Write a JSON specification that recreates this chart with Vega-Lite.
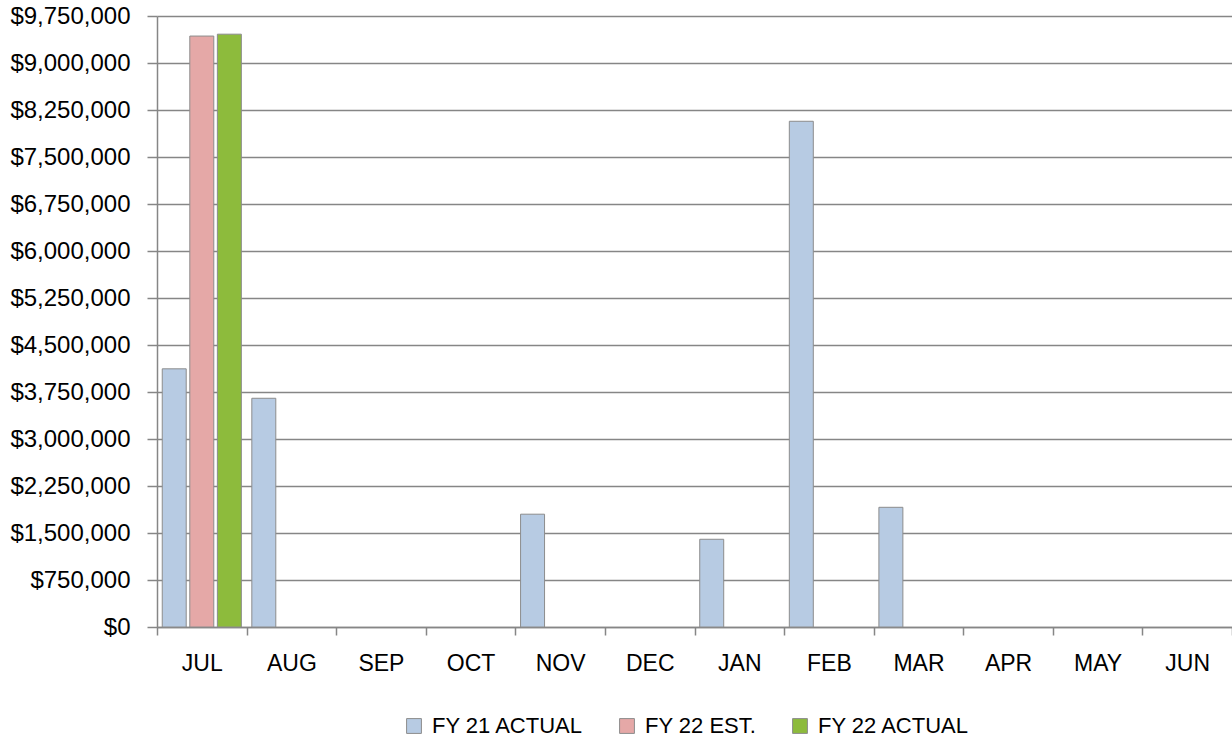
{
  "$schema": "https://vega.github.io/schema/vega-lite/v6.json",
  "autosize": {"type": "none"},
  "width": 1075,
  "height": 611,
  "padding": {"left": 157, "top": 16, "right": 0, "bottom": 115},
  "config": {
    "font": "Liberation Sans",
    "view": {"stroke": null}
  },
  "data": {
    "values": [
      {"month": "JUL", "series": "FY 21 ACTUAL", "amount": 4120000},
      {"month": "JUL", "series": "FY 22 EST.", "amount": 9430000},
      {"month": "JUL", "series": "FY 22 ACTUAL", "amount": 9460000},
      {"month": "AUG", "series": "FY 21 ACTUAL", "amount": 3650000},
      {"month": "NOV", "series": "FY 21 ACTUAL", "amount": 1800000},
      {"month": "JAN", "series": "FY 21 ACTUAL", "amount": 1400000},
      {"month": "FEB", "series": "FY 21 ACTUAL", "amount": 8070000},
      {"month": "MAR", "series": "FY 21 ACTUAL", "amount": 1910000}
    ]
  },
  "mark": {"type": "bar", "stroke": "#8c8c8c", "strokeWidth": 1},
  "encoding": {
    "x": {
      "field": "month",
      "type": "nominal",
      "sort": null,
      "scale": {
        "domain": ["JUL", "AUG", "SEP", "OCT", "NOV", "DEC", "JAN", "FEB", "MAR", "APR", "MAY", "JUN"],
        "paddingInner": 0,
        "paddingOuter": 0
      },
      "axis": {
        "title": null,
        "labelAngle": 0,
        "labelFontSize": 23,
        "labelColor": "#000000",
        "labelPadding": 17,
        "tickBand": "extent",
        "tickSize": 8,
        "tickColor": "#868686",
        "tickWidth": 1.5,
        "domainColor": "#868686",
        "domainWidth": 1.5,
        "grid": false
      }
    },
    "xOffset": {
      "field": "series",
      "type": "nominal",
      "scale": {
        "domain": ["FY 21 ACTUAL", "FY 22 EST.", "FY 22 ACTUAL"],
        "paddingInner": 0.13,
        "paddingOuter": 0.19
      }
    },
    "y": {
      "field": "amount",
      "type": "quantitative",
      "scale": {"domain": [0, 9750000], "nice": false},
      "axis": {
        "title": null,
        "values": [0, 750000, 1500000, 2250000, 3000000, 3750000, 4500000, 5250000, 6000000, 6750000, 7500000, 8250000, 9000000, 9750000],
        "format": "$,.0f",
        "labelFontSize": 24,
        "labelColor": "#000000",
        "labelPadding": 17,
        "tickSize": 10,
        "tickColor": "#868686",
        "tickWidth": 1.5,
        "domainColor": "#868686",
        "domainWidth": 1.5,
        "grid": true,
        "gridColor": "#868686",
        "gridWidth": 1.5
      }
    },
    "color": {
      "field": "series",
      "type": "nominal",
      "scale": {
        "domain": ["FY 21 ACTUAL", "FY 22 EST.", "FY 22 ACTUAL"],
        "range": ["#b7cbe3", "#e5a8a7", "#8dbb3c"]
      },
      "legend": {
        "title": null,
        "orient": "none",
        "legendX": 246,
        "legendY": 699,
        "padding": 0,
        "direction": "horizontal",
        "symbolType": "square",
        "symbolSize": 220,
        "symbolStrokeColor": "#8c8c8c",
        "symbolStrokeWidth": 1,
        "labelFontSize": 22,
        "labelColor": "#000000",
        "labelOffset": 7,
        "labelLimit": 400,
        "columnPadding": 32
      }
    }
  }
}
